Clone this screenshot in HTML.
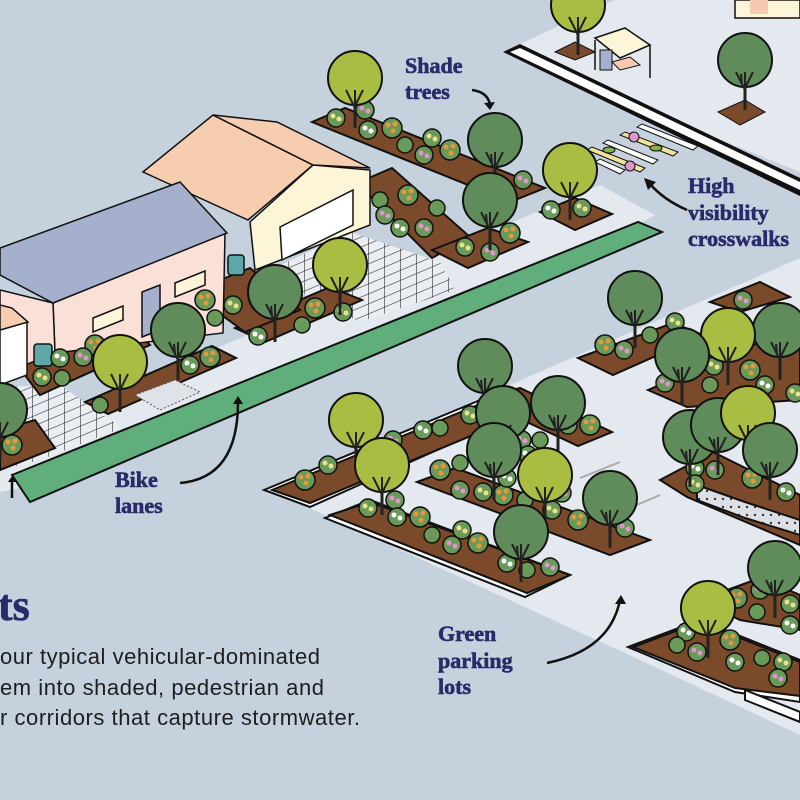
<!DOCTYPE html>
<html><head><meta charset="utf-8"><style>
html,body{margin:0;padding:0;background:#c5d1dc;}
svg{display:block}
.lbl{font-family:"Liberation Serif",serif;font-weight:bold;fill:#2b2a6b;font-size:22px;stroke:#2b2a6b;stroke-width:0.6}
.p{font-family:"Liberation Sans",sans-serif;fill:#1e1e1e;font-size:22px}
</style></head><body>
<svg width="800" height="800" viewBox="0 0 800 800" xmlns="http://www.w3.org/2000/svg">
<defs>
<g id="td"><line x1="0" y1="10" x2="0" y2="50" stroke="#222" stroke-width="3"/><circle cx="0" cy="0" r="27" fill="#5f8c5a" stroke="#111" stroke-width="2"/><path d="M0 50 L0 12 M0 30 L-9 12 M0 28 L8 12 M-3 24 L-4 14" stroke="#222" stroke-width="2" fill="none"/></g>
<g id="tl"><line x1="0" y1="10" x2="0" y2="50" stroke="#222" stroke-width="3"/><circle cx="0" cy="0" r="27" fill="#a8bd42" stroke="#111" stroke-width="2"/><path d="M0 50 L0 12 M0 30 L-9 12 M0 28 L8 12" stroke="#222" stroke-width="2" fill="none"/></g>
<g id="so"><circle r="10" fill="#6a9a5a" stroke="#111" stroke-width="1.5"/><circle cx="-4" cy="-3" r="2.5" fill="#e8973a"/><circle cx="3" cy="-4" r="2.5" fill="#e8973a"/><circle cx="1" cy="3" r="2.5" fill="#e8973a"/></g>
<g id="sp"><circle r="9" fill="#6a9a5a" stroke="#111" stroke-width="1.5"/><circle cx="-3" cy="-2" r="2.5" fill="#e095cf"/><circle cx="3" cy="1" r="2.5" fill="#e095cf"/></g>
<g id="sw"><circle r="9" fill="#6a9a5a" stroke="#111" stroke-width="1.5"/><circle cx="-3" cy="-2" r="2.5" fill="#fff"/><circle cx="3" cy="1" r="2.5" fill="#fff"/></g>
<g id="sy"><circle r="9" fill="#6a9a5a" stroke="#111" stroke-width="1.5"/><circle cx="-3" cy="-2" r="2.5" fill="#ece08a"/><circle cx="3" cy="1" r="2.5" fill="#ece08a"/></g>
<g id="sg"><circle r="8" fill="#6a9a5a" stroke="#111" stroke-width="1.5"/></g>
<pattern id="pv" width="16" height="10" patternUnits="userSpaceOnUse" patternTransform="skewY(-23)"><rect width="16" height="10" fill="#eaedf2"/><path d="M0 0H16M0 0V10" stroke="#333" stroke-width="1.2"/></pattern>
<pattern id="gr" width="8" height="8" patternUnits="userSpaceOnUse"><rect width="8" height="8" fill="#dcdfe4"/><circle cx="3" cy="3" r="1.2" fill="#333"/></pattern>
</defs>

<polygon points="503,52 615,0 800,0 800,172" fill="#e4e8ef"/>
<polygon points="503,52 520,44 800,178 800,196" fill="#111"/>
<polygon points="510,52 520,48 800,182 800,190" fill="#fff"/>
<rect x="735" y="0" width="65" height="18" fill="#fdf5d8" stroke="#111" stroke-width="1.5"/>
<rect x="750" y="0" width="18" height="14" fill="#f6c9b0"/>
<polygon points="595,38 625,28 650,45 620,58" fill="#fdf5d8" stroke="#111" stroke-width="1.5"/>
<rect x="600" y="50" width="12" height="20" fill="#a4b0cc" stroke="#111"/>
<polygon points="612,62 630,57 640,65 620,70" fill="#f6c9b0" stroke="#111"/>
<line x1="595" y1="40" x2="595" y2="70" stroke="#111" stroke-width="1.5"/><line x1="650" y1="45" x2="650" y2="78" stroke="#111" stroke-width="1.5"/>
<polygon points="555,52 575,42 595,52 575,60" fill="#7a4a2a" stroke="#111"/>
<polygon points="718,112 745,100 765,112 740,125" fill="#7a4a2a" stroke="#111"/>
<use href="#tl" x="578" y="5"/>
<use href="#td" x="745" y="60"/>

<g stroke="#111" stroke-width="1">
<polygon points="637,127 642,124 698,146 693,150" fill="#fff"/>
<polygon points="620,135 625,132 678,152 673,156" fill="#f2e39a"/>
<polygon points="603,143 608,140 658,160 653,164" fill="#fff"/>
<polygon points="587,150 592,147 645,168 640,172" fill="#f2e39a"/>
<polygon points="595,162 600,159 625,170 620,174" fill="#fff"/>
</g>
<circle cx="634" cy="137" r="5" fill="#e095cf" stroke="#111"/><circle cx="630" cy="166" r="5" fill="#e095cf" stroke="#111"/>
<ellipse cx="656" cy="148" rx="6" ry="3" fill="#8ab04a" stroke="#111"/><ellipse cx="609" cy="150" rx="6" ry="3" fill="#8ab04a" stroke="#111"/>

<polygon points="0,440 330,300 600,185 655,215 620,235 20,488 0,492" fill="#e4e8ef"/>
<polygon points="0,387 60,385 122,428 40,460 0,470" fill="url(#pv)"/>
<polygon points="277,267 350,232 440,262 455,290 360,322 300,292" fill="url(#pv)"/>

<g stroke="#111" stroke-width="2">
<polygon points="312,122 345,108 545,188 510,202" fill="#7a4a2a"/>
<polygon points="357,183 392,168 470,237 432,258" fill="#7a4a2a"/>
<polygon points="432,250 488,228 528,242 468,268" fill="#7a4a2a"/>
<polygon points="540,212 575,198 612,214 575,230" fill="#7a4a2a"/>
<polygon points="235,328 330,287 362,300 265,342" fill="#7a4a2a"/>
<polygon points="190,292 250,268 300,310 245,332" fill="#7a4a2a"/>
<polygon points="85,402 212,346 236,358 108,414" fill="#7a4a2a"/>
<polygon points="15,362 120,318 150,345 40,395" fill="#7a4a2a"/>
<polygon points="0,430 35,420 55,448 0,470" fill="#7a4a2a"/>
</g>
<polygon points="135,395 175,380 200,392 160,410" fill="#dfe3e8" stroke="#555" stroke-dasharray="2 2"/>

<g stroke="#111" stroke-width="1.5">
<polygon points="250,222 313,165 370,170 370,225 255,270" fill="#fdf5d8"/>
<polygon points="280,227 353,190 353,225 282,260" fill="#fff"/>
<polygon points="143,172 213,115 313,165 248,220" fill="#f7cdb0"/>
<polygon points="213,115 277,122 370,168 313,165" fill="#f7cdb0"/>
<polygon points="53,303 225,233 223,333 55,353" fill="#fbe0d8"/>
<polygon points="0,290 53,303 55,353 0,375" fill="#fbe0d8"/>
<polygon points="0,248 180,182 227,233 53,303 0,275" fill="#a4b0cc"/>
<polygon points="142,292 160,285 160,330 142,337" fill="#a4b0cc"/>
<polygon points="93,318 123,306 123,320 93,332" fill="#fdf5d8"/>
<polygon points="175,283 205,271 205,285 175,297" fill="#fdf5d8"/>
<polygon points="0,330 27,322 27,375 0,385" fill="#fff"/>
<polygon points="0,305 12,308 28,322 0,330" fill="#f7cdb0"/>
<rect x="34" y="344" width="18" height="22" rx="3" fill="#5fa8a8"/>
<rect x="228" y="255" width="16" height="20" rx="3" fill="#5fa8a8"/>
</g>

<polygon points="12,475 638,222 662,232 30,502" fill="#5fae7c" stroke="#111" stroke-width="2"/>

<polygon points="270,490 800,258 800,735 640,660" fill="#e4e8ef"/>
<g stroke="#111" stroke-width="2">
<polygon points="264,490 485,398 535,406 310,507" fill="#fff"/>
<polygon points="272,490 485,402 533,410 310,503" fill="#7a4a2a"/>
<polygon points="480,400 520,388 612,432 578,446" fill="#7a4a2a"/>
<polygon points="417,482 455,468 650,540 610,555" fill="#7a4a2a"/>
<polygon points="325,518 370,500 570,575 525,597" fill="#fff"/>
<polygon points="330,515 370,502 570,575 527,593" fill="#7a4a2a"/>
<polygon points="578,358 673,323 703,335 613,375" fill="#7a4a2a"/>
<polygon points="710,302 760,282 790,297 740,312" fill="#7a4a2a"/>
<polygon points="648,390 800,325 800,400 687,407" fill="#7a4a2a"/>
<polygon points="660,480 713,452 800,495 800,545 687,497" fill="#7a4a2a"/>
<polygon points="697,485 745,502 800,520 800,535 745,518 697,500" fill="url(#gr)"/>
<polygon points="628,647 700,620 800,660 800,702 735,692" fill="#fff"/>
<polygon points="633,647 700,622 800,662 800,696 735,688" fill="#7a4a2a"/>
<polygon points="700,600 760,578 800,595 800,630 740,620" fill="#7a4a2a"/>
<polygon points="745,690 800,712 800,722 745,700" fill="#fff"/>
</g>
<path d="M580 478 L620 462 M625 510 L660 495" stroke="#aaa" stroke-width="2"/>

<g>
<use href="#sy" x="336" y="118"/><use href="#sp" x="365" y="110"/><use href="#sw" x="368" y="130"/><use href="#so" x="392" y="128"/><use href="#sg" x="405" y="145"/><use href="#sy" x="432" y="138"/><use href="#so" x="450" y="150"/><use href="#sp" x="424" y="155"/><use href="#sp" x="523" y="180"/>
<use href="#so" x="408" y="195"/><use href="#sg" x="380" y="200"/><use href="#sp" x="385" y="215"/><use href="#sw" x="400" y="228"/><use href="#sp" x="424" y="228"/><use href="#sg" x="437" y="208"/>
<use href="#sw" x="551" y="210"/><use href="#sy" x="582" y="208"/><use href="#so" x="510" y="233"/><use href="#sy" x="465" y="247"/><use href="#sp" x="490" y="252"/>
<use href="#so" x="315" y="308"/><use href="#sy" x="343" y="312"/><use href="#sg" x="302" y="325"/><use href="#sw" x="258" y="336"/>
<use href="#so" x="205" y="300"/><use href="#sy" x="233" y="305"/><use href="#sg" x="215" y="318"/>
<use href="#so" x="210" y="357"/><use href="#sw" x="190" y="365"/><use href="#sg" x="100" y="405"/>
<use href="#so" x="95" y="345"/><use href="#sw" x="60" y="358"/><use href="#sp" x="83" y="357"/><use href="#sy" x="42" y="377"/><use href="#sg" x="62" y="378"/>
<use href="#so" x="12" y="445"/>
<use href="#so" x="305" y="480"/><use href="#sy" x="328" y="465"/><use href="#sp" x="393" y="440"/><use href="#sw" x="423" y="430"/><use href="#sg" x="440" y="428"/><use href="#sy" x="470" y="415"/>
<use href="#so" x="440" y="470"/><use href="#sg" x="460" y="463"/><use href="#sp" x="460" y="490"/><use href="#sy" x="483" y="492"/><use href="#so" x="503" y="495"/><use href="#sw" x="507" y="478"/><use href="#sp" x="522" y="440"/><use href="#sw" x="528" y="455"/><use href="#sg" x="540" y="440"/>
<use href="#sp" x="568" y="425"/><use href="#so" x="590" y="425"/><use href="#sg" x="525" y="500"/><use href="#sy" x="552" y="510"/><use href="#sp" x="562" y="493"/><use href="#so" x="578" y="520"/><use href="#sp" x="625" y="528"/>
<use href="#sy" x="368" y="508"/><use href="#sp" x="395" y="500"/><use href="#sw" x="397" y="517"/><use href="#so" x="420" y="517"/><use href="#sg" x="432" y="535"/><use href="#sy" x="462" y="530"/><use href="#sp" x="452" y="545"/><use href="#so" x="478" y="543"/><use href="#sw" x="507" y="563"/><use href="#sg" x="527" y="570"/><use href="#sp" x="550" y="567"/>
<use href="#so" x="605" y="345"/><use href="#sp" x="624" y="350"/><use href="#sy" x="675" y="322"/><use href="#sg" x="650" y="335"/><use href="#sp" x="743" y="300"/>
<use href="#sp" x="665" y="383"/><use href="#sy" x="714" y="366"/><use href="#so" x="750" y="370"/><use href="#sw" x="765" y="385"/><use href="#sg" x="710" y="385"/><use href="#sy" x="795" y="393"/>
<use href="#sw" x="695" y="468"/><use href="#sy" x="695" y="484"/><use href="#sp" x="715" y="470"/><use href="#so" x="752" y="478"/><use href="#sw" x="786" y="492"/>
<use href="#sw" x="686" y="632"/><use href="#sg" x="677" y="645"/><use href="#sp" x="697" y="652"/><use href="#so" x="730" y="640"/><use href="#sw" x="735" y="662"/><use href="#sg" x="762" y="658"/><use href="#sy" x="783" y="662"/><use href="#sp" x="778" y="678"/>
<use href="#so" x="737" y="598"/><use href="#sp" x="760" y="590"/><use href="#sg" x="757" y="612"/><use href="#sy" x="790" y="604"/><use href="#sw" x="790" y="625"/>
</g>

<use href="#tl" x="355" y="78"/>
<use href="#td" x="495" y="140"/>
<use href="#tl" x="570" y="170"/>
<use href="#td" x="490" y="200"/>
<use href="#tl" x="340" y="265"/>
<use href="#td" x="275" y="292"/>
<use href="#td" x="178" y="330"/>
<use href="#tl" x="120" y="362"/>
<use href="#td" x="0" y="410"/>
<use href="#td" x="485" y="366"/>
<use href="#tl" x="356" y="420"/>
<use href="#td" x="558" y="403"/>
<use href="#td" x="503" y="413"/>
<use href="#td" x="494" y="450"/>
<use href="#tl" x="382" y="465"/>
<use href="#tl" x="545" y="475"/>
<use href="#td" x="610" y="498"/>
<use href="#td" x="521" y="532"/>
<use href="#td" x="635" y="298"/>
<use href="#td" x="780" y="330"/>
<use href="#tl" x="728" y="335"/>
<use href="#td" x="682" y="355"/>
<use href="#td" x="690" y="437"/>
<use href="#td" x="718" y="425"/>
<use href="#tl" x="748" y="413"/>
<use href="#td" x="770" y="450"/>
<use href="#td" x="775" y="568"/>
<use href="#tl" x="708" y="608"/>

<text class="lbl" x="405" y="73">Shade</text>
<text class="lbl" x="405" y="99">trees</text>
<text class="lbl" x="688" y="193">High</text>
<text class="lbl" x="688" y="220">visibility</text>
<text class="lbl" x="688" y="246">crosswalks</text>
<text class="lbl" x="115" y="487">Bike</text>
<text class="lbl" x="115" y="513">lanes</text>
<text class="lbl" x="438" y="641">Green</text>
<text class="lbl" x="438" y="668">parking</text>
<text class="lbl" x="438" y="694">lots</text>
<text class="lbl" x="-2" y="620" style="font-size:44px">ts</text>
<text class="p" x="0" y="664" textLength="320">our typical vehicular-dominated</text>
<text class="p" x="0" y="695" textLength="324">em into shaded, pedestrian and</text>
<text class="p" x="0" y="725" textLength="360">r corridors that capture stormwater.</text>

<g stroke="#111" stroke-width="2.5" fill="none">
<path d="M472 90 Q488 92 490 105"/>
<path d="M687 210 Q664 200 650 184"/>
<path d="M180 483 Q238 478 238 402"/>
<path d="M547 663 Q610 650 620 600"/>
<path d="M12 498 L12 480"/>
</g>
<g fill="#111">
<polygon points="484,103 495,102 490,110"/>
<polygon points="644,178 656,182 648,190"/>
<polygon points="233,404 243,404 238,396"/>
<polygon points="615,604 626,604 621,595"/>
<polygon points="8,482 16,482 12,476"/>
</g>
</svg>
</body></html>
